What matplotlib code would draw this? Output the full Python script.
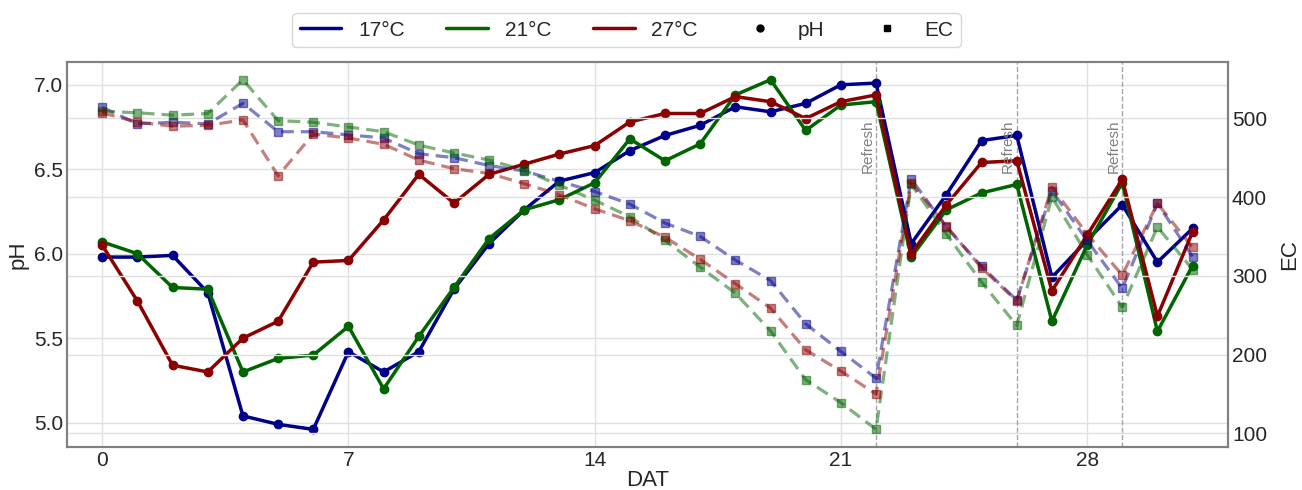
import matplotlib
matplotlib.use("Agg")
import matplotlib.pyplot as plt
from matplotlib.lines import Line2D

# days after transplant
dat = list(range(32))

ph_17 = [5.98, 5.98, 5.99, 5.77, 5.04, 4.99, 4.96, 5.42, 5.30, 5.42, 5.79, 6.06,
         6.26, 6.43, 6.48, 6.61, 6.70, 6.76, 6.87, 6.84, 6.89, 7.00, 7.01,
         6.06, 6.35, 6.67, 6.70, 5.86, 6.08, 6.29, 5.95, 6.15]
ph_21 = [6.07, 6.00, 5.80, 5.79, 5.30, 5.38, 5.40, 5.57, 5.20, 5.51, 5.80, 6.09,
         6.26, 6.32, 6.42, 6.68, 6.55, 6.65, 6.94, 7.03, 6.73, 6.88, 6.90,
         5.98, 6.26, 6.36, 6.41, 5.60, 6.05, 6.42, 5.54, 5.93]
ph_27 = [6.05, 5.72, 5.34, 5.30, 5.50, 5.60, 5.95, 5.96, 6.20, 6.47, 6.30, 6.47,
         6.53, 6.59, 6.64, 6.78, 6.83, 6.83, 6.93, 6.90, 6.80, 6.90, 6.94,
         6.00, 6.29, 6.54, 6.55, 5.78, 6.11, 6.44, 5.63, 6.13]

ec_17 = [514, 493, 495, 493, 519, 483, 483, 479, 475, 455, 450, 440,
         433, 420, 407, 391, 367, 350, 320, 294, 239, 204, 170,
         423, 362, 312, 269, 408, 345, 284, 392, 324]
ec_21 = [509, 507, 504, 506, 549, 497, 495, 489, 483, 466, 456, 447,
         434, 415, 396, 375, 345, 311, 278, 230, 168, 139, 105,
         416, 353, 292, 237, 400, 327, 260, 362, 308]
ec_27 = [507, 495, 490, 491, 498, 427, 480, 475, 467, 447, 436, 430,
         417, 403, 385, 370, 349, 321, 290, 259, 206, 179, 150,
         418, 363, 310, 268, 413, 353, 301, 392, 336]

temps = ["17°C", "21°C", "27°C"]
colors = ["darkblue", "darkgreen", "darkred"]
refresh_days = [22, 26, 29]


def main():
    plt.style.use("seaborn-v0_8-whitegrid")
    plt.rcParams["font.family"] = ["Liberation Sans", "DejaVu Sans"]

    fig = plt.figure(figsize=(13.02, 4.9), dpi=100)
    ax = fig.add_axes([0.0515, 0.088, 0.8915, 0.785])
    ax2 = ax.twinx()

    ph_all = [ph_17, ph_21, ph_27]
    ec_all = [ec_17, ec_21, ec_27]
    for ph, ec, c in zip(ph_all, ec_all, colors):
        ax.plot(dat, ph, color=c, lw=2.5, marker="o", markersize=6, zorder=3)
        ax2.plot(dat, ec, color=c, lw=2.3, ls="--", marker="s", markersize=6,
                 alpha=0.5, dashes=(4, 2.2))

    for d in refresh_days:
        ax.axvline(d, color="gray", ls="--", lw=1, alpha=0.7)
        ax.text(d - 0.05, 6.48, "Refresh", rotation=90, ha="right", va="bottom",
                color="gray", fontsize=11)

    ax.set_xlim(-1, 32)
    ax.set_xticks([0, 7, 14, 21, 28])
    ax.set_xlabel("DAT", fontsize=16, labelpad=0)
    ax.set_ylabel("pH", fontsize=16, labelpad=4)
    ax2.set_ylabel("EC", fontsize=16, labelpad=9)
    ax.tick_params(labelsize=15, pad=3)
    ax2.tick_params(labelsize=15, pad=3)
    ax.grid(True, color="#e0e0e0", lw=1)
    ax2.grid(True, color="#e0e0e0", lw=1)

    for a in (ax, ax2):
        for s in a.spines.values():
            s.set_color("gray")
            s.set_linewidth(1.5)

    handles = [Line2D([0], [0], color=c, lw=2.5) for c in colors]
    handles.append(Line2D([0], [0], color="black", marker="o", ls="none", markersize=5))
    handles.append(Line2D([0], [0], color="black", marker="s", ls="none", markersize=5))
    labels = temps + ["pH", "EC"]
    ax.legend(handles, labels, loc="upper center", bbox_to_anchor=(0.482, 1.127),
              borderaxespad=0, ncol=5, frameon=True, fontsize=15,
              columnspacing=2.0, handlelength=2.0, borderpad=0.35)

    fig.savefig("out.png", dpi=100)


if __name__ == "__main__":
    main()
